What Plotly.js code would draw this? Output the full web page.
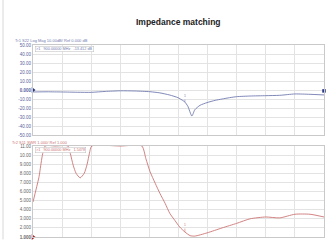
<!DOCTYPE html>
<html><head><meta charset="utf-8">
<script src="https://cdn.plot.ly/plotly-3.0.1.min.js"></script>
<style>html,body{margin:0;padding:0;background:#fff}#c{width:331px;height:252px}</style>
</head><body><div id="c"></div>
<script>
// Top trace: S22 log magnitude (dB) vs frequency (MHz)
const freqS22 = [640,664,690,716,740,764,790,815,841,858,875,889,898,901,906,913,918,927,939,953,965,978,990,1013,1040,1064,1090,1116,1140];
const s22dB   = [-2.2,-2.0,-2.2,-2.5,-2.6,-1.6,-0.9,-1.1,-1.9,-3.2,-5.6,-8.5,-11.9,-13.4,-18,-28.9,-22,-17,-14,-11.5,-10,-8.5,-7.4,-6.7,-6.3,-5.9,-4.4,-4.8,-5.5];
// Bottom trace: S11 SWR vs frequency (MHz), display saturates at 11
const freqS11 = [640,650,661,678,700,704,709,714,721,728,733,737,741,790,827,834,841,850,858,867,875,884,892,901,910,918,939,965,990,1013,1040,1064,1090,1116,1140];
const s11SWR  = [4.85,7.5,11,11,11,10.2,8.9,8.0,7.5,8.0,9.0,10.2,11,11,11,9.6,8.2,6.9,5.8,4.7,3.6,2.8,2.1,1.55,1.15,1.1,1.45,2.0,2.5,3.0,3.2,3.1,3.5,3.5,3.2];
const topTickVals = [50,40,30,20,10,0,-10,-20,-30,-40,-50];
const topTickText = ["50.00","40.00","30.00","20.00","10.00","<b>0.000</b>","-10.00","-20.00","-30.00","-40.00","-50.00"];
const botTickVals = [11,10,9,8,7,6,5,4,3,2,1];
const botTickText = ["11.00","10.00","9.000","8.000","7.000","6.000","5.000","4.000","3.000","2.000","<b>1.000</b>"];
const markerFreq = 901;
const markerS22 = -13.4;
const markerSWR = 1.55;
const titleText = "Impedance matching";
const hdr1 = "Tr1 S22 Log Mag 10.00dB/ Ref 0.000 dB";
const hdr2 = "Tr2 S11 SWR 1.000/ Ref 1.000";
const mk1 = ">1   900.00000 MHz   -13.412 dB";
const mk2 = ">1   900.00000 MHz   1.5478";

const blue = "#737cb0", red = "#cd7575", grid = "#e3e3e3", border = "#c9c9c9";
const xr = [640,1140];
const dom = [33/331, 324/331];
const topDom = [1-135/252, 1-45/252];
const botDom = [1-237/252, 1-146/252];

function xax(anchor){return {domain:dom, range:xr, tick0:640, dtick:50, showticklabels:false, ticks:"", showgrid:true, gridcolor:grid, zeroline:false, showline:true, linecolor:border, mirror:true, anchor:anchor, fixedrange:true};}
function yax(dm, rng, tv, tt, col, anchor){return {domain:dm, range:rng, tickvals:tv, ticktext:tt, tickfont:{size:4.5,color:col,family:"Liberation Sans, Arial"}, showgrid:true, gridcolor:grid, zeroline:false, showline:true, linecolor:border, mirror:true, ticks:"", ticklen:0, anchor:anchor, fixedrange:true};}

const data = [
 {x:freqS22, y:s22dB, xaxis:"x", yaxis:"y", mode:"lines", line:{color:blue,width:0.9,shape:"spline",smoothing:0.6}, hoverinfo:"skip"},
 {x:freqS11, y:s11SWR, xaxis:"x2", yaxis:"y2", mode:"lines", line:{color:red,width:0.9,shape:"spline",smoothing:0.6}, hoverinfo:"skip"},
 {x:[xr[0]], y:[0], xaxis:"x", yaxis:"y", mode:"markers", marker:{symbol:"triangle-right",size:5,color:"#2a3680"}, cliponaxis:false},
 {x:[xr[0]], y:[1], xaxis:"x2", yaxis:"y2", mode:"markers", marker:{symbol:"triangle-right",size:5,color:"#b02020"}, cliponaxis:false},
 {x:[markerFreq], y:[-52.5], xaxis:"x", yaxis:"y", mode:"markers", marker:{symbol:"triangle-up",size:5,color:"#2a3680"}, cliponaxis:false},
 {x:[markerFreq], y:[0.75], xaxis:"x2", yaxis:"y2", mode:"markers", marker:{symbol:"triangle-up",size:5,color:"#b02020"}, cliponaxis:false},
 {x:[xr[1]], y:[-1], xaxis:"x", yaxis:"y", mode:"markers", marker:{symbol:"square",size:3.5,color:"#2a3680"}, cliponaxis:false},
 {x:[xr[1]], y:[0.9], xaxis:"x2", yaxis:"y2", mode:"markers", marker:{symbol:"square",size:3.5,color:"#b02020"}, cliponaxis:false}
];

const layout = {
 width:331, height:252, margin:{l:0,r:0,t:0,b:0}, showlegend:false,
 paper_bgcolor:"#fff", plot_bgcolor:"#fff",
 font:{family:"Liberation Sans, Arial", size:5},
 xaxis:xax("y"), xaxis2:xax("y2"),
 yaxis:yax(topDom,[-50,50],topTickVals,topTickText,"#5a64a0","x"),
 yaxis2:yax(botDom,[1,11],botTickVals,botTickText,"#666","x2"),
 annotations:[
  {text:"<b>"+titleText+"</b>", xref:"paper", yref:"paper", x:(dom[0]+dom[1])/2, y:1-21.5/252, xanchor:"center", yanchor:"middle", showarrow:false, font:{size:8.5,color:"#222",family:"Liberation Sans, Arial"}},
  {text:hdr1, xref:"paper", yref:"paper", x:13/331, y:1-40/252, xanchor:"left", yanchor:"middle", showarrow:false, font:{size:4,color:blue}},
  {text:hdr2, xref:"paper", yref:"paper", x:10/331, y:1-142/252, xanchor:"left", yanchor:"middle", showarrow:false, font:{size:4,color:red}},
  {text:mk1, xref:"paper", yref:"paper", x:35/331, y:1-49/252, xanchor:"left", yanchor:"middle", showarrow:false, font:{size:3.8,color:blue}, bordercolor:"#bbb", borderwidth:0.5, borderpad:0.5, bgcolor:"#fff"},
  {text:mk2, xref:"paper", yref:"paper", x:35/331, y:1-150/252, xanchor:"left", yanchor:"middle", showarrow:false, font:{size:3.8,color:red}, bordercolor:"#bbb", borderwidth:0.5, borderpad:0.5, bgcolor:"#fff"},
  {text:"1", x:markerFreq, y:markerS22, xref:"x", yref:"y", showarrow:true, arrowhead:0, arrowwidth:0.6, arrowcolor:blue, ax:0, ay:-6, font:{size:3.5,color:blue}},
  {text:"1", x:markerFreq, y:markerSWR, xref:"x2", yref:"y2", showarrow:true, arrowhead:0, arrowwidth:0.6, arrowcolor:red, ax:0, ay:-7, font:{size:3.5,color:red}}
 ],
 shapes:[{type:"line", xref:"paper", yref:"paper", x0:3/331, x1:3/331, y0:0.05, y1:1, line:{color:"#d8d8d8", width:1}}]
};
Plotly.newPlot("c", data, layout, {staticPlot:true, displayModeBar:false});
</script></body></html>
